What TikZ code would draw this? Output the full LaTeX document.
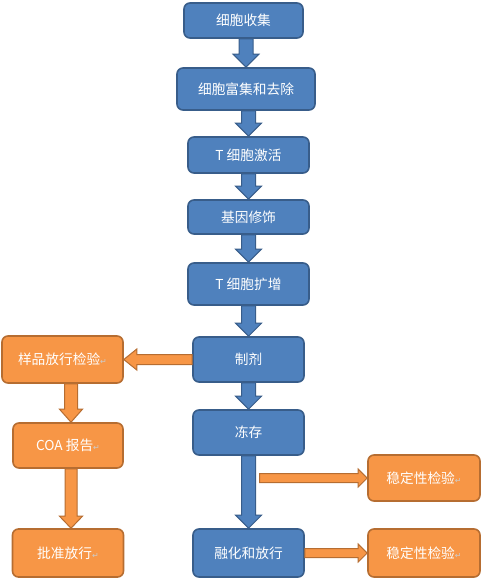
\documentclass[tikz,border=0pt]{standalone}
\usepackage{fontspec}
\newfontfamily\cjk{Noto Sans CJK SC}
\newfontfamily\symfont{DejaVu Sans}
\usetikzlibrary{calc}
\definecolor{boxblue}{HTML}{4F81BD}
\definecolor{lineblue}{HTML}{385D8A}
\definecolor{boxorange}{HTML}{F79646}
\definecolor{lineorange}{HTML}{B66D31}
% #1 style, #2 half shaft, #3 half head, #4 head length, #5 from, #6 to
\newcommand{\blockarrow}[6]{%
\coordinate (ba) at ($(#6)!#4!(#5)$);
\filldraw[#1] ($(#5)!#2!90:(#6)$) -- ($(ba)!#2!90:(#6)$) -- ($(ba)!#3!90:(#6)$) -- (#6)
  -- ($(ba)!#3!-90:(#6)$) -- ($(ba)!#2!-90:(#6)$) -- ($(#5)!#2!-90:(#6)$) -- cycle;}
\newcommand{\retmark}{{\symfont\fontsize{8}{9}\selectfont\color{white!60!gray}↵}}
\begin{document}
\begin{tikzpicture}[x=1pt,y=-1pt,
  stepbox/.style={draw=lineblue,fill=boxblue,line width=1.6pt,rounded corners=6pt,
    text=white,font=\cjk\fontsize{13.7}{16}\selectfont,inner sep=0pt},
  testbox/.style={stepbox,draw=lineorange,fill=boxorange},
  bluearr/.style={draw=lineblue,fill=boxblue,line width=1pt},
  orangearr/.style={draw=lineorange,fill=boxorange,line width=1pt}]
\useasboundingbox (0,0) rectangle (484,579);
% main column
\node[stepbox,minimum width=119,minimum height=35] (b1) at (243.5,20.5) {细胞收集};
\node[stepbox,minimum width=138,minimum height=42] (b2) at (246,89) {细胞富集和去除};
\node[stepbox,minimum width=121,minimum height=36] (b3) at (248.5,155) {T 细胞激活};
\node[stepbox,minimum width=121,minimum height=34] (b4) at (248.5,217) {基因修饰};
\node[stepbox,minimum width=121,minimum height=42] (b5) at (248.5,284) {T 细胞扩增};
\node[stepbox,minimum width=111,minimum height=45] (b6) at (248.5,359.5) {制剂};
\node[stepbox,minimum width=111,minimum height=45] (b7) at (248.5,432.5) {冻存};
\node[stepbox,minimum width=111,minimum height=48] (b8) at (248.5,553) {融化和放行};
% tests
\node[testbox,minimum width=121,minimum height=47] (smp) at (62.5,359.5) {样品放行检验\retmark};
\node[testbox,minimum width=110,minimum height=45] (coa) at (68,445.5) {COA 报告\retmark};
\node[testbox,minimum width=111,minimum height=48] (rel) at (68,553) {批准放行\retmark};
\node[testbox,minimum width=112,minimum height=46] (stab1) at (424,478) {稳定性检验\retmark};
\node[testbox,minimum width=112,minimum height=48] (stab2) at (424,553) {稳定性检验\retmark};
% arrows
\blockarrow{bluearr}{7pt}{13pt}{13pt}{b1.south -| b2}{b2.north}
\blockarrow{bluearr}{7pt}{13pt}{13pt}{b2.south -| b3}{b3.north}
\blockarrow{bluearr}{7pt}{13pt}{13pt}{b3.south}{b4.north}
\blockarrow{bluearr}{7pt}{13pt}{13pt}{b4.south}{b5.north}
\blockarrow{bluearr}{7pt}{13pt}{13pt}{b5.south}{b6.north}
\blockarrow{bluearr}{7pt}{13pt}{13pt}{b6.south}{b7.north}
\blockarrow{bluearr}{7pt}{13pt}{13pt}{b7.south}{b8.north}
\blockarrow{orangearr}{5pt}{10.5pt}{13pt}{b6.west}{smp.east}
\coordinate (smpout) at ($(smp.south -| coa)+(3,0)$);
\coordinate (coain) at ($(coa.north)+(3,0)$);
\coordinate (coaout) at ($(coa.south)+(3,0)$);
\coordinate (relin) at ($(rel.north)+(3,0)$);
\blockarrow{orangearr}{6.5pt}{11.5pt}{13pt}{smpout}{coain}
\blockarrow{orangearr}{6pt}{11.5pt}{12pt}{coaout}{relin}
\coordinate (stabfrom) at ($(stab1.west -| b7.south)+(11,0)$);
\blockarrow{orangearr}{4.5pt}{9pt}{9pt}{stabfrom}{stab1.west}
\blockarrow{orangearr}{4.5pt}{9pt}{9pt}{b8.east}{stab2.west}
\end{tikzpicture}
\end{document}
